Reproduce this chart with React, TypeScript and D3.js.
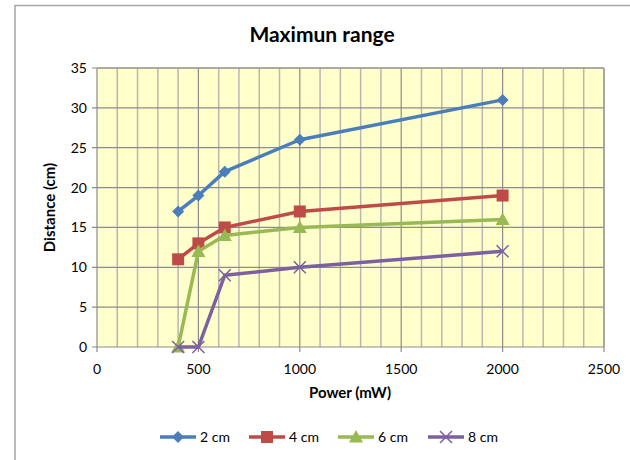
import React from "react";
import * as d3 from "d3";

const powers = [400, 500, 630, 1000, 2000];
const seriesNames = ["2 cm", "4 cm", "6 cm", "8 cm"];
const s2 = [17, 19, 22, 26, 31];
const s4 = [11, 13, 15, 17, 19];
const s6 = [0, 12, 14, 15, 16];
const s8 = [0, 0, 9, 10, 12];
const xTicks = [0, 500, 1000, 1500, 2000, 2500];
const yTicks = [0, 5, 10, 15, 20, 25, 30, 35];

const colors = ["#4A7EBB", "#BE4B48", "#98B954", "#7D60A0"];
const shapes = ["diamond", "square", "triangle", "x"];
const FONT = "Lato, 'Open Sans', sans-serif";

const W = 630, H = 460;
const L = 97, R = 604, T = 68, B = 347;

function Marker({ shape, x, y, color }: { shape: string; x: number; y: number; color: string }) {
  if (shape === "diamond") {
    const s = 6;
    return <path d={`M${x},${y - s}L${x + s},${y}L${x},${y + s}L${x - s},${y}Z`} fill={color} />;
  }
  if (shape === "square") {
    const s = 6;
    return <rect x={x - s} y={y - s} width={2 * s} height={2 * s} fill={color} />;
  }
  if (shape === "triangle") {
    const s = 7;
    return <path d={`M${x},${y - s}L${x + s},${y + s * 0.8}L${x - s},${y + s * 0.8}Z`} fill={color} />;
  }
  const s = 6;
  return (
    <path d={`M${x - s},${y - s}L${x + s},${y + s}M${x - s},${y + s}L${x + s},${y - s}`} stroke={color} strokeWidth={1.5} fill="none" />
  );
}

export default function App() {
  const x = d3.scaleLinear().domain([0, 2500]).range([L, R]);
  const y = d3.scaleLinear().domain([0, 35]).range([B, T]);
  const series = [s2, s4, s6, s8];
  const line = d3
    .line<[number, number]>()
    .x((d) => x(d[0]))
    .y((d) => y(d[1]));
  const minor = d3.range(100, 2500, 100).filter((v) => v % 500 !== 0);
  const legendX = [160, 249, 338, 428];

  return (
    <svg width={W} height={H} style={{ position: "fixed", left: 0, top: 0, background: "#fff" }} fontFamily={FONT}>
      <rect x={15} y={5.5} width={700} height={500} fill="#fff" stroke="#a6a6a6" strokeWidth={1.5} />
      <text x={322} y={42} textAnchor="middle" fontSize={21} fontWeight="bold" fill="#000">
        Maximun range
      </text>
      <rect x={L} y={T} width={R - L} height={B - T} fill="#FFFFCC" />
      {minor.map((v) => (
        <line key={"m" + v} x1={x(v)} x2={x(v)} y1={T} y2={B} stroke="#b8b8b0" strokeWidth={1.5} />
      ))}
      {xTicks.slice(1).map((v) => (
        <line key={"M" + v} x1={x(v)} x2={x(v)} y1={T} y2={B + 5} stroke="#8c8c8c" strokeWidth={1.2} />
      ))}
      {yTicks.map((v) => (
        <line key={"y" + v} x1={L - 5} x2={R} y1={y(v)} y2={y(v)} stroke="#8c8c8c" strokeWidth={1.2} />
      ))}
      <line x1={L} x2={L} y1={T} y2={B + 5} stroke="#8c8c8c" strokeWidth={1.2} />
      <line x1={L} x2={R} y1={T} y2={T} stroke="#a0a0a0" strokeWidth={1.5} />
      <line x1={R} x2={R} y1={T} y2={B} stroke="#a0a0a0" strokeWidth={1.5} />
      {yTicks.map((v) => (
        <text key={"yt" + v} x={L - 10} y={y(v) + 5} textAnchor="end" fontSize={14} fill="#000">
          {v}
        </text>
      ))}
      {xTicks.map((v) => (
        <text key={"xt" + v} x={x(v)} y={374} textAnchor="middle" fontSize={14} fill="#000">
          {v}
        </text>
      ))}
      <text x={350} y={398} textAnchor="middle" fontSize={15} fontWeight="bold" fill="#000">
        Power (mW)
      </text>
      <text transform={`translate(55,${(T + B) / 2}) rotate(-90)`} textAnchor="middle" fontSize={15} fontWeight="bold" fill="#000">
        Distance  (cm)
      </text>
      {series.map((vals, i) => {
        const pts = powers.map((p, j) => [p, vals[j]] as [number, number]);
        return (
          <g key={"s" + i}>
            <path d={line(pts) || ""} fill="none" stroke={colors[i]} strokeWidth={3.5} strokeLinejoin="round" />
            {pts.map((d, j) => (
              <Marker key={j} shape={shapes[i]} x={x(d[0])} y={y(d[1])} color={colors[i]} />
            ))}
          </g>
        );
      })}
      {seriesNames.map((n, i) => (
        <g key={"l" + i}>
          <line x1={legendX[i]} x2={legendX[i] + 36} y1={437} y2={437} stroke={colors[i]} strokeWidth={3.5} />
          <Marker shape={shapes[i]} x={legendX[i] + 18} y={437} color={colors[i]} />
          <text x={legendX[i] + 40} y={442} fontSize={14} fill="#000">
            {n}
          </text>
        </g>
      ))}
    </svg>
  );
}
